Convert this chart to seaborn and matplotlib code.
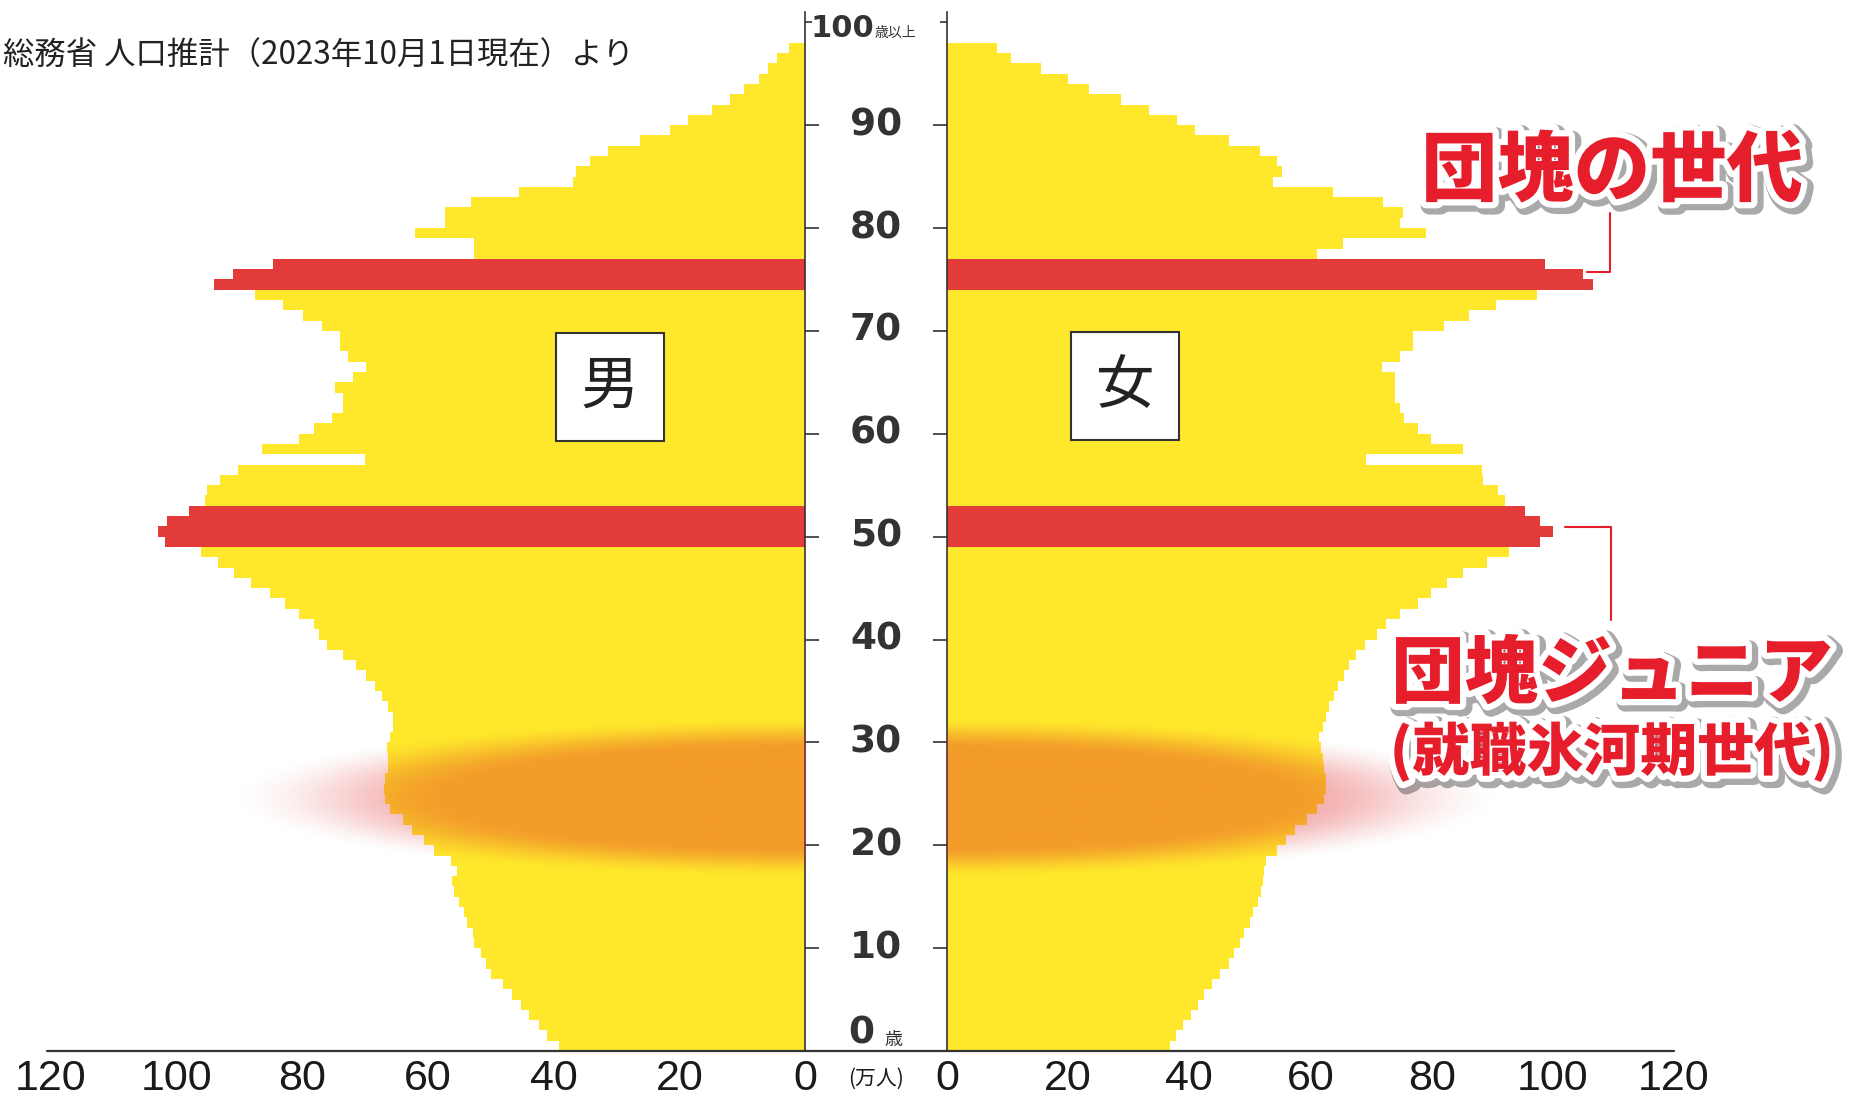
import numpy as np
import pandas as pd
import matplotlib
matplotlib.use('Agg')
import matplotlib.pyplot as plt
import matplotlib.patheffects as pe
from matplotlib.patches import Rectangle
from matplotlib.lines import Line2D
from matplotlib.transforms import blended_transform_factory
import seaborn as sns

# 年齢別人口（万人）  2023年10月1日現在
ages = list(range(0, 98))
male = [39.1, 41.0, 42.3, 43.9, 45.2, 46.7, 48.0, 49.9, 50.8, 51.6,
        52.6, 52.8, 53.8, 54.2, 55.0, 55.8, 56.2, 55.4, 56.3, 59.0,
        60.7, 62.5, 64.0, 66.0, 66.8, 67.0, 66.8, 66.3, 66.3, 66.5,
        66.0, 65.6, 65.6, 66.4, 67.3, 68.5, 69.8, 71.4, 73.5, 76.0,
        77.3, 78.1, 80.6, 82.7, 85.2, 88.1, 90.8, 93.5, 96.2, 101.8,
        102.9, 101.6, 98.1, 95.5, 95.2, 93.1, 90.2, 70.0, 86.4, 80.6,
        78.1, 75.2, 73.5, 73.5, 74.8, 71.9, 69.8, 72.7, 74.0, 74.0,
        76.8, 79.9, 83.1, 87.5, 94.1, 91.1, 84.6, 52.7, 52.7, 62.0,
        57.3, 57.3, 53.1, 45.5, 37.0, 36.5, 34.2, 31.3, 26.2, 21.5,
        18.6, 14.8, 12.0, 9.7, 7.3, 5.9, 4.5, 2.5]
female = [36.8, 37.8, 39.0, 40.3, 41.5, 42.5, 43.7, 45.0, 46.5, 47.3,
          48.3, 49.0, 50.0, 50.5, 51.3, 51.8, 52.2, 52.4, 52.7, 54.5,
          56.0, 57.5, 59.5, 61.0, 62.3, 62.6, 62.6, 62.3, 62.0, 61.8,
          61.4, 62.0, 62.5, 63.0, 63.8, 64.6, 65.5, 66.3, 67.5, 69.0,
          71.0, 72.5, 74.7, 77.8, 79.9, 82.5, 85.1, 89.1, 92.8, 97.9,
          100.1, 97.9, 95.4, 92.1, 90.9, 88.5, 88.3, 69.2, 85.1, 79.9,
          77.7, 75.5, 74.7, 74.0, 74.0, 74.0, 71.8, 74.7, 76.9, 76.9,
          82.1, 86.1, 90.6, 97.4, 106.6, 104.9, 98.7, 61.0, 65.3, 79.0,
          74.7, 75.3, 72.0, 63.7, 53.8, 55.3, 54.4, 51.7, 46.5, 41.0,
          37.9, 33.3, 28.7, 23.4, 19.9, 15.5, 10.6, 8.2]

dankai_ages = [74, 75, 76]        # 団塊の世代
junior_ages = [49, 50, 51, 52]    # 団塊ジュニア

x_ticks = [0, 20, 40, 60, 80, 100, 120]
age_ticks = [10, 20, 30, 40, 50, 60, 70, 80, 90]

YELLOW = '#FFE82C'
RED = '#E33A3A'
TEXT_RED = '#E61E2B'
DARK = '#333333'

sns.set_style('white')
plt.rcParams['font.family'] = ['DejaVu Sans', 'Noto Sans CJK JP']

W, H = 1854, 1096
fig = plt.figure(figsize=(W / 100, H / 100), dpi=100)


def fx(px):
    return px / W


def fy(py):
    return 1 - py / H


y_bot, y_top = fy(1051), fy(12)
ax_m = fig.add_axes([fx(51), y_bot, fx(805) - fx(51), y_top - y_bot])
ax_f = fig.add_axes([fx(947), y_bot, fx(1674) - fx(947), y_top - y_bot])

df = pd.DataFrame({'age': ages, 'male': male, 'female': female})
df['pos'] = df['age'] + 0.5
df['group'] = np.where(df['age'].isin(dankai_ages + junior_ages), 'red', 'yellow')
palette = {'yellow': YELLOW, 'red': RED}

# 就職氷河期のぼかし（楕円）
vv = np.linspace(0, 100, 500)
aa = np.linspace(13, 37, 260)
V, A = np.meshgrid(vv, aa)
r = np.sqrt((V / 89) ** 2 + ((A - 24.6) / 7.6) ** 2)
t = np.clip((r - 0.62) / 0.42, 0, 1)
alpha = 0.40 * (1 - t * t * (3 - 2 * t))
glow = np.zeros(V.shape + (4,))
glow[..., 0], glow[..., 1], glow[..., 2] = 0.88, 0.16, 0.16
glow[..., 3] = alpha

for ax, col in [(ax_m, 'male'), (ax_f, 'female')]:
    sns.barplot(data=df, x=col, y='pos', hue='group', palette=palette, orient='y',
                native_scale=True, dodge=False, width=1, saturation=1, linewidth=0,
                errorbar=None, legend=False, antialiased=False, ax=ax)
    ax.imshow(glow, extent=(0, 100, 13, 37), origin='lower', aspect='auto',
              interpolation='bilinear', zorder=3)
    ax.set_ylim(0, 101)
    ax.set_xlabel('')
    ax.set_ylabel('')
    for s in ['top', 'bottom', 'left', 'right']:
        ax.spines[s].set_visible(False)
    ax.set_xticks(x_ticks)
    ax.set_xticklabels([str(v) for v in x_ticks], fontsize=31, color='#1a1a1a',
                       family=['Liberation Sans Narrow', 'Liberation Sans'])
    ax.tick_params(axis='x', length=0, pad=6)
    ax.set_yticks(age_ticks)
    ax.set_yticks([100], minor=True)
    ax.set_yticklabels([])
    ax.tick_params(axis='y', which='major', direction='out', length=10, width=1.2, color=DARK)
    ax.tick_params(axis='y', which='minor', direction='out', length=5, width=1.2, color=DARK)
    ax.set_facecolor('none')

ax_m.set_xlim(120, 0)
ax_m.spines['right'].set_visible(True)
ax_m.spines['right'].set_color(DARK)
ax_m.spines['right'].set_linewidth(1.2)
ax_m.tick_params(axis='y', which='both', left=False, right=True)

ax_f.set_xlim(0, 120)
ax_f.spines['left'].set_visible(True)
ax_f.spines['left'].set_color(DARK)
ax_f.spines['left'].set_linewidth(1.2)
ax_f.tick_params(axis='y', which='both', left=True, right=False)

# 底辺の線
fig.add_artist(Line2D([fx(47), fx(1674)], [fy(1051), fy(1051)], color=DARK, lw=1.6))

# 中央の年齢ラベル
trans = blended_transform_factory(fig.transFigure, ax_m.transData)
for a in age_ticks:
    ax_m.text(fx(876), a, str(a), transform=trans, ha='center', va='center',
              fontsize=27, fontweight='bold', color=DARK, family='DejaVu Sans')
ax_m.text(fx(874), 98.6, '100', transform=trans, ha='right', va='baseline',
          fontsize=22, fontweight='bold', color=DARK, family='DejaVu Sans')
ax_m.text(fx(875), 98.6, '歳以上', transform=trans, ha='left', va='baseline',
          fontsize=10, color=DARK, family='Noto Sans CJK JP')
ax_m.text(fx(861), 1.7, '0', transform=trans, ha='center', va='center',
          fontsize=27, fontweight='bold', color=DARK, family='DejaVu Sans')
ax_m.text(fx(884), 0.6, '歳', transform=trans, ha='left', va='baseline',
          fontsize=13, color=DARK, family='Noto Sans CJK JP')
fig.text(fx(876), fy(1079), '(万人)', ha='center', va='center', fontsize=15,
         color='#1a1a1a', family='Noto Sans CJK JP')

# 出典
fig.text(fx(3), fy(56), '総務省 人口推計（2023年10月1日現在）より', ha='left', va='center',
         fontsize=22.6, color='#222222', family='Noto Sans CJK JP')

# 男・女の箱
for (x0, y0, lab) in [(556, 333, '男'), (1071, 332, '女')]:
    fig.add_artist(Rectangle((fx(x0), fy(y0 + 108)), fx(108), 108 / H, transform=fig.transFigure,
                             facecolor='white', edgecolor=DARK, lw=1.5, zorder=5))
    fig.text(fx(x0 + 54), fy(y0 + 54), lab, ha='center', va='center', fontsize=42,
             color='#222222', family='Noto Sans CJK JP', zorder=6)

# 注記
effects = [pe.Stroke(linewidth=13, foreground='#555555', alpha=0.5, offset=(2.5, -2.5)),
           pe.Stroke(linewidth=9, foreground='white'),
           pe.Normal()]
fig.text(fx(1612), fy(172), '団塊の世代', ha='center', va='center', fontsize=55,
         fontweight='black', color=TEXT_RED, family='Noto Sans CJK JP',
         path_effects=effects, zorder=7)
fig.text(fx(1612), fy(675), '団塊ジュニア', ha='center', va='center', fontsize=53,
         fontweight='black', color=TEXT_RED, family='Noto Sans CJK JP',
         path_effects=effects, zorder=7)
fig.text(fx(1612), fy(752), '(就職氷河期世代)', ha='center', va='center', fontsize=41,
         fontweight='black', color=TEXT_RED, family='Noto Sans CJK JP',
         path_effects=effects, zorder=7)

fig.add_artist(Line2D([fx(1610), fx(1610), fx(1587)], [fy(213), fy(272), fy(272)],
                      color=TEXT_RED, lw=1.5))
fig.add_artist(Line2D([fx(1565), fx(1611), fx(1611)], [fy(527), fy(527), fy(620)],
                      color=TEXT_RED, lw=1.5))

fig.savefig('out.png', dpi=100)
